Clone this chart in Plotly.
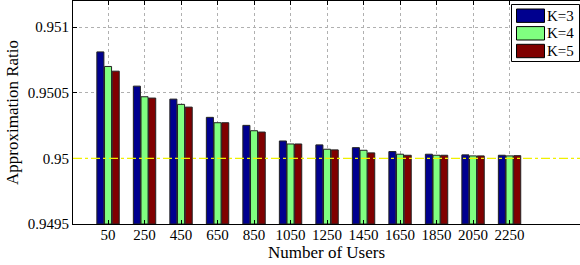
import plotly.graph_objects as go

users = ["50", "250", "450", "650", "850", "1050", "1250", "1450", "1650", "1850", "2050", "2250"]
k3 = [0.950812, 0.950551, 0.950452, 0.950313, 0.950252, 0.950133, 0.950103, 0.950082, 0.950052, 0.950032, 0.950027, 0.950024]
k4 = [0.950701, 0.950470, 0.950412, 0.950272, 0.950211, 0.950110, 0.950070, 0.950062, 0.950032, 0.950024, 0.950019, 0.950019]
k5 = [0.950665, 0.950460, 0.950391, 0.950272, 0.950201, 0.950110, 0.950065, 0.950042, 0.950024, 0.950024, 0.950019, 0.950021]
series_names = ["K=3", "K=4", "K=5"]
colors = ["#00008F", "#80FF80", "#800000"]
y_ticks = [0.9495, 0.95, 0.9505, 0.951]
y_tick_text = ["0.9495", "0.95", "0.9505", "0.951"]
reference_level = 0.95
y_floor = 0.9495

FONT = "Liberation Serif"
fig = go.Figure()
x_idx = list(range(len(users)))
for name, vals, col in zip(series_names, [k3, k4, k5], colors):
    fig.add_trace(go.Bar(
        x=x_idx, y=[v - y_floor for v in vals], name=name, base=y_floor,
        marker=dict(color=col, line=dict(color="#222222", width=1)),
        showlegend=False, hoverinfo="skip",
    ))

fig.add_shape(type="line", xref="paper", yref="y", x0=0, x1=1,
              y0=reference_level, y1=reference_level,
              line=dict(color="#F0F000", width=1.3, dash="dashdot"), layer="above")

# custom legend (MATLAB style)
W, H = 580, 265
L, R, T, B = 73, 0, 1, 41
pw, ph = W - L - R, H - T - B
def px(x): return (x - L) / pw
def py(y): return 1 - (y - T) / ph

fig.add_shape(type="rect", xref="paper", yref="paper",
              x0=px(511.5), x1=px(579.5), y0=py(61.5), y1=py(4.5),
              line=dict(color="black", width=1), fillcolor="white", layer="above")
row_y = [15.7, 33.3, 51.0]
for name, col, ry in zip(series_names, colors, row_y):
    fig.add_shape(type="rect", xref="paper", yref="paper",
                  x0=px(516.5), x1=px(544.5), y0=py(ry + 6.7), y1=py(ry - 6.7),
                  line=dict(color="black", width=1), fillcolor=col, layer="above")
    fig.add_annotation(xref="paper", yref="paper", x=px(545.0), y=py(ry),
                       text=name, showarrow=False, xanchor="left", yanchor="middle",
                       font=dict(family=FONT, size=15, color="black"))

fig.update_layout(
    width=W, height=H,
    margin=dict(l=L, r=R, t=T, b=B, autoexpand=False),
    plot_bgcolor="white", paper_bgcolor="white",
    barmode="group", bargap=0.37, bargroupgap=0.08,
    font=dict(family=FONT, size=15, color="black"),
    xaxis=dict(
        tickmode="array", tickvals=x_idx, ticktext=users,
        range=[-0.96, 12.93], automargin=False,
        showline=True, linecolor="black", linewidth=1, mirror="ticks",
        ticks="inside", ticklen=4, tickcolor="black",
        showgrid=True, gridcolor="#b0b0b0", griddash="dot", gridwidth=1,
        tickfont=dict(family=FONT, size=15), ticklabelstandoff=-3,
        title=dict(text="Number of Users", font=dict(family=FONT, size=17), standoff=0),
        zeroline=False,
    ),
    yaxis=dict(
        range=[0.9495, 0.9512], automargin=False,
        tickmode="array", tickvals=y_ticks, ticktext=y_tick_text,
        showline=True, linecolor="black", linewidth=1,
        ticks="inside", ticklen=4, tickcolor="black",
        showgrid=True, gridcolor="#b0b0b0", griddash="dot", gridwidth=1,
        tickfont=dict(family=FONT, size=15),
        title=dict(text="Approximation Ratio", font=dict(family=FONT, size=17), standoff=4),
        zeroline=False,
    ),
)
fig.write_html("out.html", config={"displayModeBar": False, "staticPlot": True},
               post_script="document.body.style.margin='0';document.body.style.overflow='hidden';")
